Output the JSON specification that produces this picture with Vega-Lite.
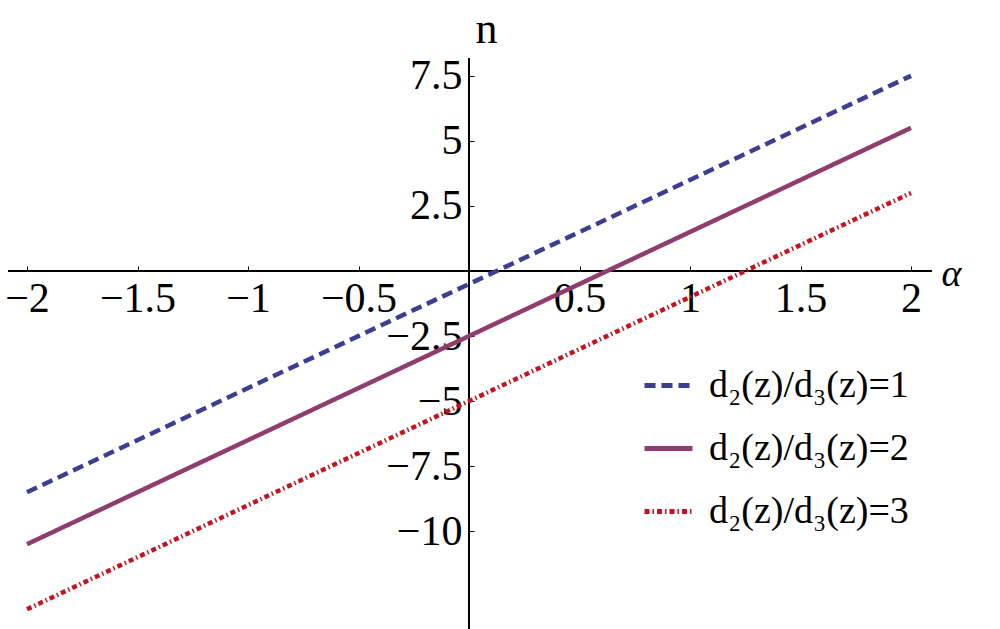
{
  "$schema": "https://vega.github.io/schema/vega-lite/v6.json",
  "width": 1000,
  "height": 629,
  "autosize": "none",
  "padding": 0,
  "background": "white",
  "config": {"view": {"stroke": null}, "font": "Liberation Serif"},
  "data": {"values": [
    {"alpha": -2, "n": -8.5, "series": "d₂(z)/d₃(z)=1"},
    {"alpha": 2, "n": 7.5, "series": "d₂(z)/d₃(z)=1"},
    {"alpha": -2, "n": -10.5, "series": "d₂(z)/d₃(z)=2"},
    {"alpha": 2, "n": 5.5, "series": "d₂(z)/d₃(z)=2"},
    {"alpha": -2, "n": -13, "series": "d₂(z)/d₃(z)=3"},
    {"alpha": 2, "n": 3, "series": "d₂(z)/d₃(z)=3"}
  ]},
  "layer": [
    {
      "mark": {"type": "rule", "color": "black", "strokeWidth": 1.3},
      "encoding": {
        "x": {"datum": -2.086, "type": "quantitative", "scale": {"domain": [-2.1222, 2.4027], "nice": false, "zero": false},
          "axis": {"values": [-2, -1.5, -1, -0.5, 0.5, 1, 1.5, 2], "format": "~g", "orient": "bottom", "offset": -358, "domain": false, "grid": false,
            "tickSize": -5, "tickColor": "black", "tickWidth": 1, "labelPadding": 12, "labelFontSize": 42, "labelFont": "Liberation Serif", "labelColor": "black", "labelFlush": false, "labelOverlap": false,
            "title": "α", "titleFont": "Liberation Serif", "titleFontStyle": "italic", "titleFontWeight": "normal", "titleFontSize": 38, "titleColor": "black", "titleAlign": "left", "titleBaseline": "alphabetic", "titleX": 941, "titleY": 14}},
        "x2": {"datum": 2.095},
        "y": {"datum": 0, "type": "quantitative", "scale": {"domain": [-13.759, 10.415], "nice": false, "zero": false},
          "axis": {"values": [-10, -7.5, -5, -2.5, 2.5, 5, 7.5], "format": "~g", "orient": "left", "offset": -469, "domain": false, "grid": false,
            "tickSize": -5, "tickColor": "black", "tickWidth": 1, "labelPadding": 12, "labelFontSize": 42, "labelFont": "Liberation Serif", "labelColor": "black", "labelFlush": false, "labelOverlap": false, "labelBaseline": "middle",
            "title": "n", "titleFont": "Liberation Serif", "titleFontWeight": "normal", "titleFontSize": 44, "titleColor": "black", "titleAngle": 0, "titleAlign": "left", "titleBaseline": "alphabetic", "titleX": 6, "titleY": 42}}
      }
    },
    {
      "mark": {"type": "rule", "color": "black", "strokeWidth": 1.3},
      "encoding": {
        "x": {"datum": 0, "type": "quantitative"},
        "y": {"datum": -13.76, "type": "quantitative"},
        "y2": {"datum": 8.19}
      }
    },
    {
      "mark": {"type": "line", "strokeWidth": 4.5, "strokeCap": "butt"},
      "encoding": {
        "x": {"field": "alpha", "type": "quantitative"},
        "y": {"field": "n", "type": "quantitative"},
        "color": {"field": "series", "type": "nominal",
          "scale": {"domain": ["d₂(z)/d₃(z)=1", "d₂(z)/d₃(z)=2", "d₂(z)/d₃(z)=3"], "range": ["#3D3D91", "#8F3D6E", "#C0141E"]},
          "legend": {"orient": "none", "legendX": 642, "legendY": 359, "title": null, "padding": 0,
            "symbolType": "stroke", "symbolSize": 2304, "symbolStrokeWidth": 5, "rowPadding": 17,
            "labelFont": "Liberation Serif", "labelFontSize": 38, "labelColor": "black", "labelOffset": 14, "labelLimit": 400}},
        "strokeDash": {"field": "series", "type": "nominal",
          "scale": {"domain": ["d₂(z)/d₃(z)=1", "d₂(z)/d₃(z)=2", "d₂(z)/d₃(z)=3"], "range": [[11, 6], [1, 0], [5, 3, 1.5, 3]]}}
      }
    }
  ]
}
